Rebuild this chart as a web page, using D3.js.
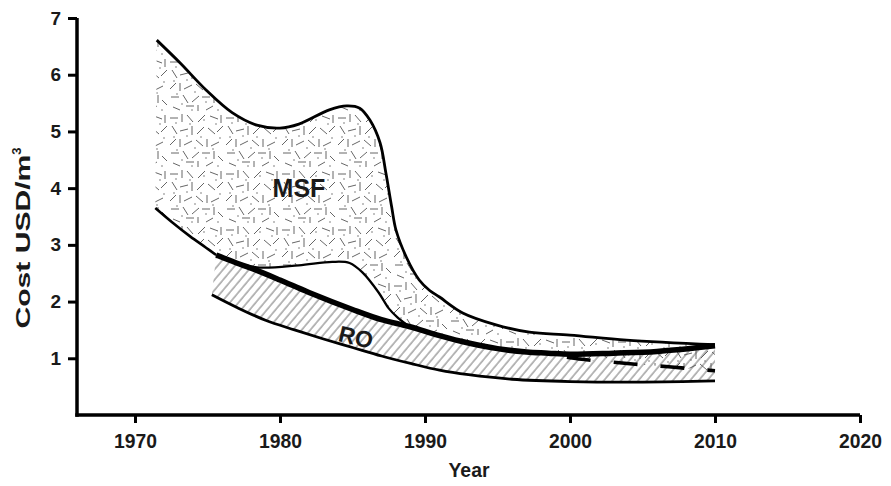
<!DOCTYPE html>
<html>
<head>
<meta charset="utf-8">
<script src="https://cdn.jsdelivr.net/npm/d3@7"></script>
<style>
  html, body { margin: 0; padding: 0; background: #fff; }
  svg { display: block; }
  text { font-family: "Liberation Sans", Arial, sans-serif; font-weight: bold; fill: #1a1a1a; }
</style>
</head>
<body>
<svg id="chart" width="891" height="486"></svg>
<script>
// Desalination cost bands, USD per cubic metre
const xTicks = [1970, 1980, 1990, 2000, 2010, 2020];
const yTicks = [1, 2, 3, 4, 5, 6, 7];

// MSF band, upper edge
const msfUpperYears  = [1971.5, 1973.1, 1974.9, 1976.7, 1978.4, 1980.0, 1981.3, 1983.4, 1984.6, 1985.5, 1986.2, 1986.9, 1987.3, 1987.7, 1988.0, 1988.7, 1989.6, 1990.3, 1991.0, 1992.6, 1994.9, 1997.2, 2000.0, 2003.9, 2010.0];
const msfUpperValues = [6.61,   6.21,   5.73,   5.33,   5.11,   5.06,   5.13,   5.38,   5.45,   5.41,   5.20,   4.80,   4.27,   3.67,   3.26,   2.79,   2.38,   2.20,   2.08,   1.80,   1.59,   1.46,   1.41,   1.32,   1.24];

// MSF band, lower edge before it meets the RO band
const msfLowerStartYears  = [1971.4, 1972.6, 1973.8, 1974.9, 1975.6];
const msfLowerStartValues = [3.65,   3.39,   3.15,   2.95,   2.82];

// MSF band, lower edge bulge above the RO band
const msfBumpYears  = [1977.0, 1978.6, 1981.3, 1983.6, 1984.8, 1985.7, 1986.8, 1987.5, 1988.1, 1988.9];
const msfBumpValues = [2.68,   2.60,   2.64,   2.70,   2.68,   2.51,   2.16,   1.88,   1.72,   1.56];

// RO band, upper edge (heavy line)
const roUpperYears  = [1975.6, 1977.0, 1978.0, 1980.0, 1982.0, 1985.0, 1987.0, 1988.9, 1991.0, 1993.0, 1995.0, 1997.0, 1998.5, 2000.0, 2003.0, 2006.0, 2010.0];
const roUpperValues = [2.82,   2.68,   2.59,   2.38,   2.16,   1.86,   1.68,   1.56,   1.40,   1.27,   1.17,   1.11,   1.09,   1.07,   1.09,   1.12,   1.22];

// MSF band, lower edge after 1998 (dashed)
const msfTailYears  = [1998.5, 2000.0, 2003.4, 2006.8, 2010.0];
const msfTailValues = [1.09,   1.01,   0.92,   0.85,   0.78];

// RO band, lower edge
const roLowerYears  = [1975.3, 1977.0, 1979.0, 1981.0, 1983.0, 1985.0, 1987.0, 1989.0, 1991.0, 1993.0, 1996.0, 2000.0, 2005.0, 2010.0];
const roLowerValues = [2.12,   1.90,   1.67,   1.50,   1.34,   1.19,   1.04,   0.91,   0.79,   0.71,   0.63,   0.59,   0.58,   0.60];

const zip = (xs, ys) => xs.map((x, i) => [x, ys[i]]);
const msfUpper = zip(msfUpperYears, msfUpperValues);
const msfLowerStart = zip(msfLowerStartYears, msfLowerStartValues);
const msfBump = zip(msfBumpYears, msfBumpValues);
const roUpper = zip(roUpperYears, roUpperValues);
const msfTail = zip(msfTailYears, msfTailValues);
const roLower = zip(roLowerYears, roLowerValues);

const svg = d3.select("#chart");
const x = d3.scaleLinear().domain([1966, 2020]).range([77, 860]);
const y = d3.scaleLinear().domain([0, 7]).range([415, 18]);

// Fill patterns
const defs = svg.append("defs");

const speckle = defs.append("pattern")
  .attr("id", "msfFill").attr("patternUnits", "userSpaceOnUse")
  .attr("width", 56).attr("height", 56);
const strokes = [
  [2,6,10,6],[14,2,14,10],[19,3,25,10],[30,10,37,3],[42,4,50,7],[53,3,53,11],
  [4,14,9,22],[12,19,20,17],[24,14,24,23],[29,22,36,15],[40,16,47,22],[49,20,55,14],
  [2,33,8,27],[12,27,12,35],[16,33,24,29],[28,28,35,34],[39,27,39,35],[43,34,51,30],
  [3,41,11,41],[15,39,20,47],[24,46,31,40],[34,41,42,41],[46,39,46,47],[50,44,55,49],
  [5,51,12,54],[18,50,26,50],[30,49,30,55],[38,54,45,50]
];
speckle.selectAll("line").data(strokes).join("line")
  .attr("x1", d => d[0]).attr("y1", d => d[1]).attr("x2", d => d[2]).attr("y2", d => d[3])
  .attr("stroke", "#555").attr("stroke-width", 0.9);
const dots = [[8,11],[22,12],[36,8],[48,12],[6,25],[19,24],[33,25],[52,26],[9,38],[27,36],[45,37],[14,48],[38,46],[24,54],[50,54]];
speckle.selectAll("circle").data(dots).join("circle")
  .attr("cx", d => d[0]).attr("cy", d => d[1]).attr("r", 0.7).attr("fill", "#555");

const hatch = defs.append("pattern")
  .attr("id", "roFill").attr("patternUnits", "userSpaceOnUse")
  .attr("width", 6.6).attr("height", 10)
  .attr("patternTransform", "rotate(40)");
hatch.append("line").attr("x1", 1).attr("y1", -2).attr("x2", 1).attr("y2", 12)
  .attr("stroke", "#555").attr("stroke-width", 0.85);

// Curve helpers
const line = d3.line().x(d => x(d[0])).y(d => y(d[1])).curve(d3.curveCatmullRom.alpha(0.5));
const band = (top, bottom) => line(top) + "L" + line(bottom.slice().reverse()).slice(1) + "Z";

const msfLower = msfLowerStart
  .concat(roUpper.filter(d => d[0] > 1975.6 && d[0] < 1977.0))
  .concat(msfBump)
  .concat(roUpper.filter(d => d[0] > 1988.9 && d[0] < 1998.5))
  .concat(msfTail);

svg.append("path").attr("d", band(msfUpper, msfLower)).attr("fill", "url(#msfFill)");
svg.append("path").attr("d", band(roUpper, roLower)).attr("fill", "url(#roFill)");

// Boundary lines
const drawLine = (data, width, dash) => svg.append("path")
  .attr("d", line(data)).attr("fill", "none").attr("stroke", "#000")
  .attr("stroke-width", width).attr("stroke-linecap", "butt")
  .attr("stroke-dasharray", dash || null);

drawLine(msfUpper, 2.8);
drawLine(msfLowerStart, 2.6);
drawLine(msfBump, 2.3);
drawLine(roLower, 2.8);
drawLine(msfTail, 3.6, "24,23").attr("stroke-dashoffset", 28);
drawLine(roUpper, 5.5);

// Axes
const yAxis = svg.append("g").attr("transform", "translate(77,0)")
  .call(d3.axisLeft(y).tickValues(yTicks).tickFormat(d3.format("d")).tickSize(9).tickSizeOuter(0).tickPadding(7));
const xAxis = svg.append("g").attr("transform", "translate(0,415)")
  .call(d3.axisBottom(x).tickValues(xTicks).tickFormat(d3.format("d")).tickSize(8).tickSizeOuter(0).tickPadding(10));
[yAxis, xAxis].forEach(g => {
  g.select(".domain").attr("stroke", "#000").attr("stroke-width", 3.5);
  g.selectAll(".tick line").attr("stroke", "#000").attr("stroke-width", 3);
  g.selectAll(".tick text").attr("font-family", "Liberation Sans, Arial, sans-serif")
    .attr("font-weight", "bold").attr("fill", "#1a1a1a");
});
yAxis.selectAll(".tick text").attr("font-size", 19);
xAxis.selectAll(".tick text").attr("font-size", 21)
  .attr("textLength", 43).attr("lengthAdjust", "spacingAndGlyphs");
yAxis.select(".domain").attr("d", "M0,18V416.7");
xAxis.select(".domain").attr("d", "M75.3,0H860");

// Titles
svg.append("text").attr("x", 469).attr("y", 477).attr("text-anchor", "middle")
  .attr("font-size", 20).attr("textLength", 41).attr("lengthAdjust", "spacingAndGlyphs")
  .text("Year");

const yTitle = svg.append("text").attr("transform", "translate(30,238) rotate(-90)")
  .attr("text-anchor", "middle").attr("font-size", 21);
yTitle.append("tspan").attr("textLength", 174).attr("lengthAdjust", "spacingAndGlyphs").text("Cost USD/m");
yTitle.append("tspan").attr("font-size", 13).attr("dy", -9).text("3");

// Band labels
svg.append("text").attr("x", 299).attr("y", 197).attr("text-anchor", "middle")
  .attr("font-size", 25).text("MSF");
svg.append("text").attr("transform", "translate(354,345) rotate(13)")
  .attr("text-anchor", "middle").attr("font-size", 23).text("RO");
</script>
</body>
</html>
